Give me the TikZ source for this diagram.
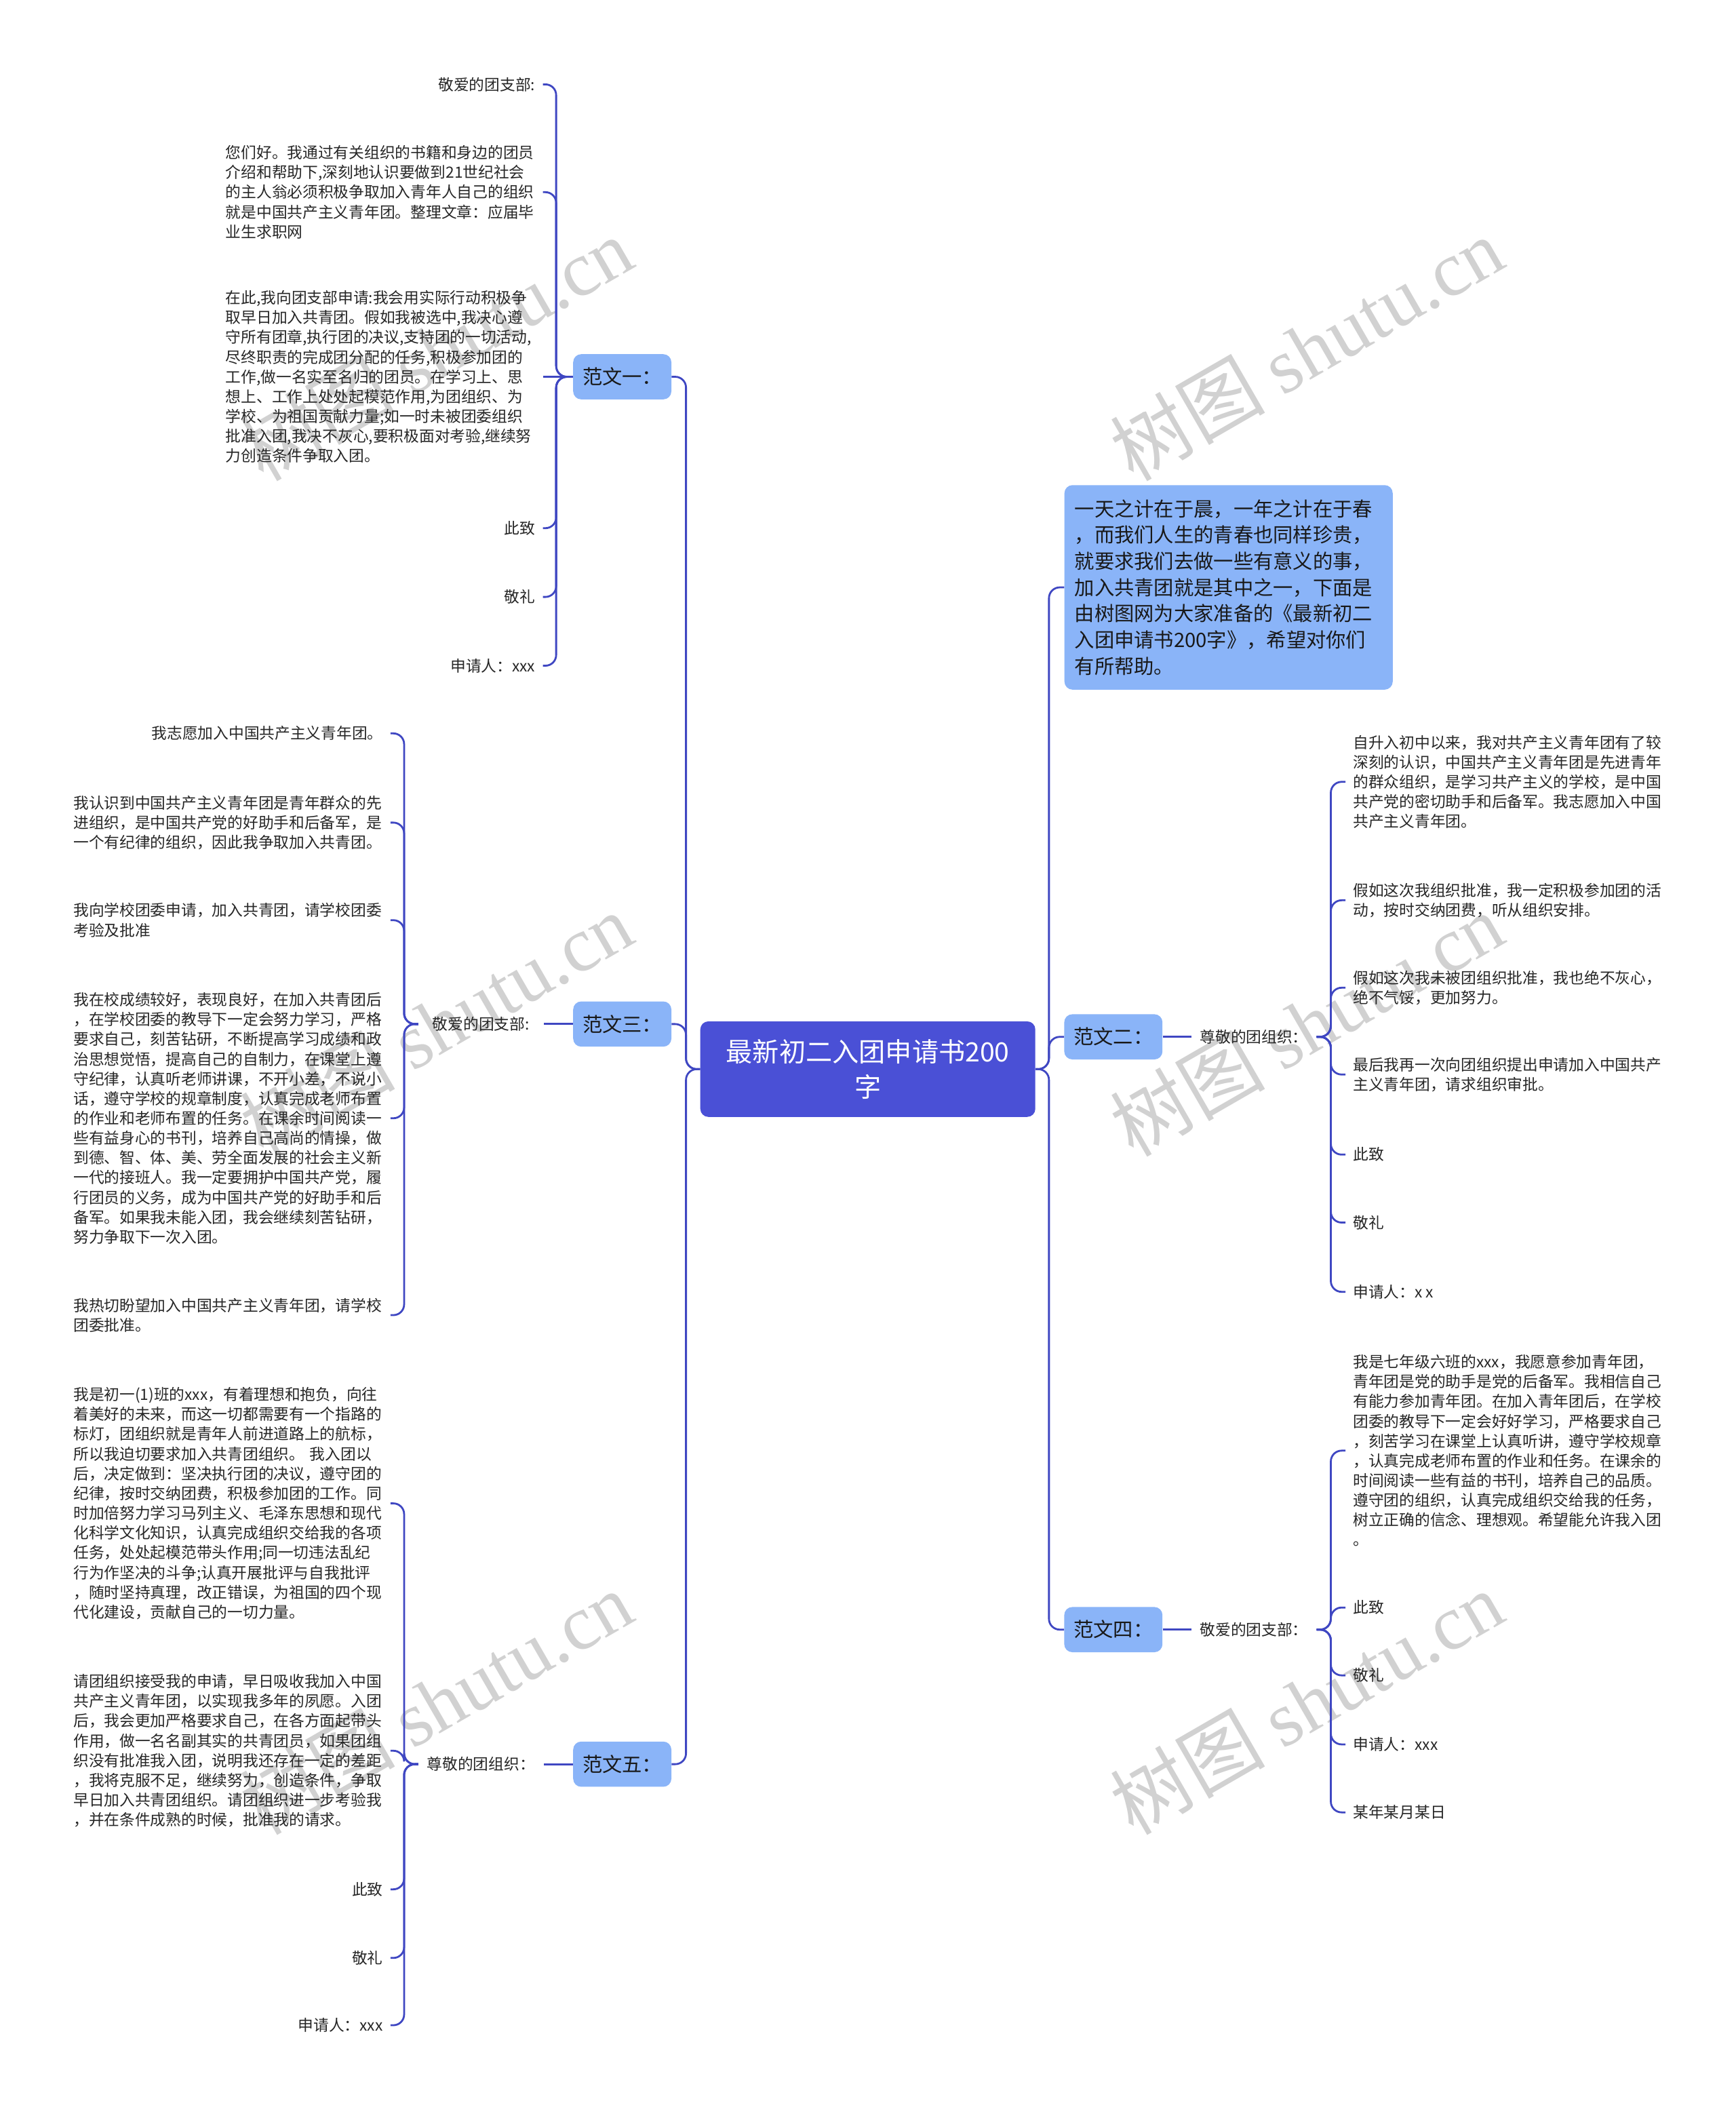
\documentclass[tikz,border=0pt]{standalone}
\usepackage{fontspec}
\setmainfont{Noto Sans CJK SC}
\newfontfamily\wmfont{Liberation Serif}

\definecolor{linkblue}{HTML}{3F47C2}
\definecolor{rootfill}{HTML}{4A50D6}
\definecolor{branchfill}{HTML}{8AB4F8}
\definecolor{leaftext}{HTML}{262626}

\newcommand\leaffont{\fontsize{16.3pt}{20.9pt}\selectfont}
\newcommand\branchfont{\fontsize{21pt}{27.7pt}\selectfont}
\newcommand\rootfont{\fontsize{28.1pt}{37pt}\selectfont}

\begin{document}
\begin{tikzpicture}[x=0.05cm, y=-0.05cm]

  % Styles
  \tikzset{
    root/.style={fill=rootfill, text=white, font=\rootfont, rounded corners=0.3cm,
      minimum width=12.45cm, minimum height=3.55cm, inner sep=0pt, align=center},
    branch/.style={fill=branchfill, text=black!90, font=\branchfont, rounded corners=0.3cm,
      minimum width=3.65cm, minimum height=1.68cm, inner sep=0pt},
    intro/.style={branch, anchor=west, text width=11.44cm, inner xsep=0.38cm,
      minimum height=7.6cm, align=left},
    sub/.style={font=\leaffont, text=leaftext, minimum width=4.65cm, inner sep=0pt},
    leaf/.style={font=\leaffont, text=leaftext, inner xsep=0.28cm, inner ysep=0pt},
    para/.style={leaf, text width=11.5cm, align=left},
    link/.style={draw=linkblue, line width=2pt, rounded corners=0.4cm},
    watermark/.style={text=black!18, rotate=30, inner sep=0pt,
      font=\fontsize{82pt}{82pt}\selectfont}
  }

  \useasboundingbox (0,0) rectangle (1290,1568);

  % --- WATERMARKS ---
  \node[watermark] (w1) at (324,259) {树图 {\wmfont shutu.cn}};
  \node[watermark] (w2) at (971,259) {树图 {\wmfont shutu.cn}};
  \node[watermark] (w3) at (324,761) {树图 {\wmfont shutu.cn}};
  \node[watermark] (w4) at (971,761) {树图 {\wmfont shutu.cn}};
  \node[watermark] (w5) at (324,1265) {树图 {\wmfont shutu.cn}};
  \node[watermark] (w6) at (971,1265) {树图 {\wmfont shutu.cn}};

  % --- ROOT AND MAIN BRANCHES ---
  \node[root] (root) at (645,794.5) {最新初二入团申请书200\\字};
  \node[branch] (b1) at (462.5,280) {范文一：};
  \node[branch] (b3) at (462.5,761) {范文三：};
  \node[branch] (b5) at (462.5,1311) {范文五：};
  \node[intro] (intro) at (791,436.5) {一天之计在于晨，一年之计在于春\\
    ，而我们人生的青春也同样珍贵，\\
    就要求我们去做一些有意义的事，\\
    加入共青团就是其中之一，下面是\\
    由树图网为大家准备的《最新初二\\
    入团申请书200字》，希望对你们\\
    有所帮助。};
  \node[branch] (b2) at (827.5,770.5) {范文二：};
  \node[branch] (b4) at (827.5,1211) {范文四：};

  % Trunks
  \draw[link] (root.west) -- ++(-10.5,0) |- (b1.east);
  \draw[link] (root.west) -- ++(-10.5,0) |- (b3.east);
  \draw[link] (root.west) -- ++(-10.5,0) |- (b5.east);
  \draw[link] (root.east) -- ++(10,0) |- (intro.west);
  \draw[link] (root.east) -- ++(10,0) |- (b2.west);
  \draw[link] (root.east) -- ++(10,0) |- (b4.west);

  % --- FAN 1: 范文一 ---
  \node[leaf, anchor=east] (a1) at (403.5,62.7) {敬爱的团支部:};
  \node[para, anchor=east] (a2) at (403.5,142.8) {您们好。我通过有关组织的书籍和身边的团员\\
    介绍和帮助下,深刻地认识要做到21世纪社会\\
    的主人翁必须积极争取加入青年人自己的组织\\
    就是中国共产主义青年团。整理文章：应届毕\\
    业生求职网};
  \node[para, anchor=east] (a3) at (403.5,280) {在此,我向团支部申请:我会用实际行动积极争\\
    取早日加入共青团。假如我被选中,我决心遵\\
    守所有团章,执行团的决议,支持团的一切活动,\\
    尽终职责的完成团分配的任务,积极参加团的\\
    工作,做一名实至名归的团员。在学习上、思\\
    想上、工作上处处起模范作用,为团组织、为\\
    学校、为祖国贡献力量;如一时未被团委组织\\
    批准入团,我决不灰心,要积极面对考验,继续努\\
    力创造条件争取入团。};
  \node[leaf, anchor=east] (a4) at (403.5,392.5) {此致};
  \node[leaf, anchor=east] (a5) at (403.5,443.6) {敬礼};
  \node[leaf, anchor=east] (a6) at (403.5,494.7) {申请人：xxx};

  \draw[link] (b1.west) -- ++(-12.5,0) |- (a1.east);
  \draw[link] (b1.west) -- ++(-12.5,0) |- (a2.east);
  \draw[link] (b1.west) -- (a3.east);
  \draw[link] (b1.west) -- ++(-12.5,0) |- (a4.east);
  \draw[link] (b1.west) -- ++(-12.5,0) |- (a5.east);
  \draw[link] (b1.west) -- ++(-12.5,0) |- (a6.east);

  % --- FAN 3: 范文三 ---
  \node[sub] (s3) at (357.5,761) {敬爱的团支部:};
  \node[leaf, anchor=east] (c1) at (290.3,545) {我志愿加入中国共产主义青年团。};
  \node[para, anchor=east] (c2) at (290.3,611.3) {我认识到中国共产主义青年团是青年群众的先\\
    进组织，是中国共产党的好助手和后备军，是\\
    一个有纪律的组织，因此我争取加入共青团。};
  \node[para, anchor=east] (c3) at (290.3,683.8) {我向学校团委申请，加入共青团，请学校团委\\
    考验及批准};
  \node[para, anchor=east] (c4) at (290.3,831) {我在校成绩较好，表现良好，在加入共青团后\\
    ，在学校团委的教导下一定会努力学习，严格\\
    要求自己，刻苦钻研，不断提高学习成绩和政\\
    治思想觉悟，提高自己的自制力，在课堂上遵\\
    守纪律，认真听老师讲课，不开小差，不说小\\
    话，遵守学校的规章制度，认真完成老师布置\\
    的作业和老师布置的任务。在课余时间阅读一\\
    些有益身心的书刊，培养自己高尚的情操，做\\
    到德、智、体、美、劳全面发展的社会主义新\\
    一代的接班人。我一定要拥护中国共产党，履\\
    行团员的义务，成为中国共产党的好助手和后\\
    备军。如果我未能入团，我会继续刻苦钻研，\\
    努力争取下一次入团。};
  \node[para, anchor=east] (c5) at (290.3,977.3) {我热切盼望加入中国共产主义青年团，请学校\\
    团委批准。};

  \draw[link] (b3.west) -- (s3.east);
  \draw[link] (s3.west) -- ++(-10.5,0) |- (c1.east);
  \draw[link] (s3.west) -- ++(-10.5,0) |- (c2.east);
  \draw[link] (s3.west) -- ++(-10.5,0) |- (c3.east);
  \draw[link] (s3.west) -- ++(-10.5,0) |- (c4.east);
  \draw[link] (s3.west) -- ++(-10.5,0) |- (c5.east);

  % --- FAN 5: 范文五 ---
  \node[sub] (s5) at (357.5,1311) {尊敬的团组织：};
  \node[para, anchor=east] (e1) at (290.3,1117.2) {我是初一(1)班的xxx，有着理想和抱负，向往\\
    着美好的未来，而这一切都需要有一个指路的\\
    标灯，团组织就是青年人前进道路上的航标，\\
    所以我迫切要求加入共青团组织。 我入团以\\
    后，决定做到：坚决执行团的决议，遵守团的\\
    纪律，按时交纳团费，积极参加团的工作。同\\
    时加倍努力学习马列主义、毛泽东思想和现代\\
    化科学文化知识，认真完成组织交给我的各项\\
    任务，处处起模范带头作用;同一切违法乱纪\\
    行为作坚决的斗争;认真开展批评与自我批评\\
    ，随时坚持真理，改正错误，为祖国的四个现\\
    代化建设，贡献自己的一切力量。};
  \node[para, anchor=east] (e2) at (290.3,1301) {请团组织接受我的申请，早日吸收我加入中国\\
    共产主义青年团，以实现我多年的夙愿。入团\\
    后，我会更加严格要求自己，在各方面起带头\\
    作用，做一名名副其实的共青团员，如果团组\\
    织没有批准我入团，说明我还存在一定的差距\\
    ，我将克服不足，继续努力，创造条件，争取\\
    早日加入共青团组织。请团组织进一步考验我\\
    ，并在条件成熟的时候，批准我的请求。};
  \node[leaf, anchor=east] (e3) at (290.3,1404) {此致};
  \node[leaf, anchor=east] (e4) at (290.3,1455) {敬礼};
  \node[leaf, anchor=east] (e5) at (290.3,1505) {申请人：xxx};

  \draw[link] (b5.west) -- (s5.east);
  \draw[link] (s5.west) -- ++(-10.5,0) |- (e1.east);
  \draw[link] (s5.west) -- ++(-10.5,0) |- (e2.east);
  \draw[link] (s5.west) -- ++(-10.5,0) |- (e3.east);
  \draw[link] (s5.west) -- ++(-10.5,0) |- (e4.east);
  \draw[link] (s5.west) -- ++(-10.5,0) |- (e5.east);

  % --- FAN 2: 范文二 ---
  \node[sub] (s2) at (932,770.5) {尊敬的团组织：};
  \node[para, anchor=west] (d1) at (1000,581) {自升入初中以来，我对共产主义青年团有了较\\
    深刻的认识，中国共产主义青年团是先进青年\\
    的群众组织，是学习共产主义的学校，是中国\\
    共产党的密切助手和后备军。我志愿加入中国\\
    共产主义青年团。};
  \node[para, anchor=west] (d2) at (1000,669) {假如这次我组织批准，我一定积极参加团的活\\
    动，按时交纳团费，听从组织安排。};
  \node[para, anchor=west] (d3) at (1000,734) {假如这次我未被团组织批准，我也绝不灰心，\\
    绝不气馁，更加努力。};
  \node[para, anchor=west] (d4) at (1000,798.5) {最后我再一次向团组织提出申请加入中国共产\\
    主义青年团，请求组织审批。};
  \node[leaf, anchor=west] (d5) at (1000,858) {此致};
  \node[leaf, anchor=west] (d6) at (1000,908.5) {敬礼};
  \node[leaf, anchor=west] (d7) at (1000,960) {申请人：x x};

  \draw[link] (b2.east) -- (s2.west);
  \draw[link] (s2.east) -- ++(10.5,0) |- (d1.west);
  \draw[link] (s2.east) -- ++(10.5,0) |- (d2.west);
  \draw[link] (s2.east) -- ++(10.5,0) |- (d3.west);
  \draw[link] (s2.east) -- ++(10.5,0) |- (d4.west);
  \draw[link] (s2.east) -- ++(10.5,0) |- (d5.west);
  \draw[link] (s2.east) -- ++(10.5,0) |- (d6.west);
  \draw[link] (s2.east) -- ++(10.5,0) |- (d7.west);

  % --- FAN 4: 范文四 ---
  \node[sub] (s4) at (932,1211) {敬爱的团支部：};
  \node[para, anchor=west] (f1) at (1000,1078) {我是七年级六班的xxx，我愿意参加青年团，\\
    青年团是党的助手是党的后备军。我相信自己\\
    有能力参加青年团。在加入青年团后，在学校\\
    团委的教导下一定会好好学习，严格要求自己\\
    ，刻苦学习在课堂上认真听讲，遵守学校规章\\
    ，认真完成老师布置的作业和任务。在课余的\\
    时间阅读一些有益的书刊，培养自己的品质。\\
    遵守团的组织，认真完成组织交给我的任务，\\
    树立正确的信念、理想观。希望能允许我入团\\
    。};
  \node[leaf, anchor=west] (f2) at (1000,1194.6) {此致};
  \node[leaf, anchor=west] (f3) at (1000,1245) {敬礼};
  \node[leaf, anchor=west] (f4) at (1000,1296.3) {申请人：xxx};
  \node[leaf, anchor=west] (f5) at (1000,1346.8) {某年某月某日};

  \draw[link] (b4.east) -- (s4.west);
  \draw[link] (s4.east) -- ++(10.5,0) |- (f1.west);
  \draw[link] (s4.east) -- ++(10.5,0) |- (f2.west);
  \draw[link] (s4.east) -- ++(10.5,0) |- (f3.west);
  \draw[link] (s4.east) -- ++(10.5,0) |- (f4.west);
  \draw[link] (s4.east) -- ++(10.5,0) |- (f5.west);

\end{tikzpicture}
\end{document}
